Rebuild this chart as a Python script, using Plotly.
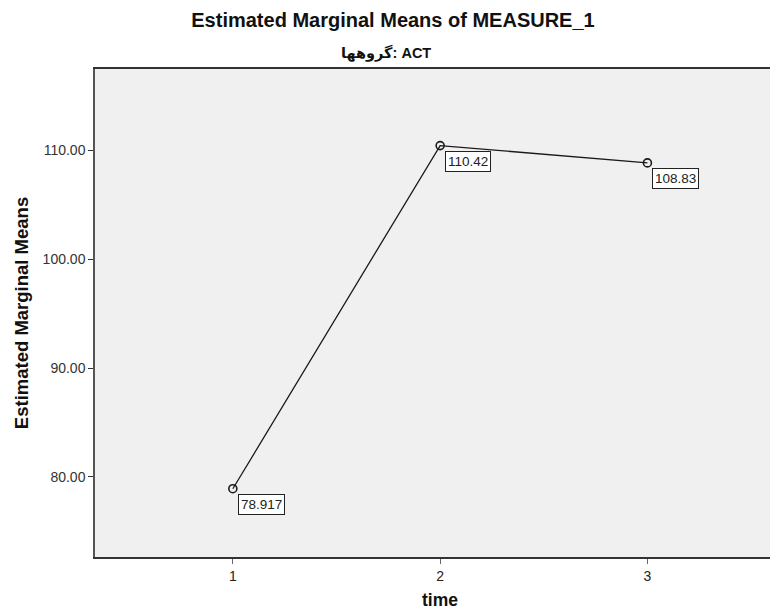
import plotly.graph_objects as go

time_points = [1, 2, 3]
means = [78.917, 110.42, 108.83]
mean_labels = ["78.917", "110.42", "108.83"]
y_ticks = [80, 90, 100, 110]

fig = go.Figure()
fig.add_trace(go.Scatter(
    x=time_points, y=means, mode="lines+markers",
    line=dict(color="#1a1a1a", width=1.3),
    marker=dict(symbol="circle-open", size=8, color="#1a1a1a", line=dict(width=1.6)),
    hoverinfo="skip", showlegend=False,
))

for xv, yv, lab in zip(time_points, means, mean_labels):
    fig.add_annotation(
        x=xv, y=yv, text=lab, showarrow=False,
        xanchor="left", yanchor="top", xshift=5, yshift=-5,
        font=dict(family="Arial", size=13.5, color="#222"),
        bgcolor="white", bordercolor="#222", borderwidth=1, borderpad=2,
    )

fig.add_annotation(
    x=0.426, y=1.0, xref="paper", yref="paper", yanchor="middle", yshift=16,
    text="<b>گروهها: ACT</b>", showarrow=False,
    font=dict(family="Arial, DejaVu Sans", size=14.5, color="#111"),
)

fig.add_annotation(
    x=2, y=0, xref="x", yref="paper", yanchor="middle", yshift=-43,
    text="<b>time</b>", showarrow=False,
    font=dict(family="Arial", size=17.5, color="#111"),
)

fig.update_layout(
    width=770, height=603,
    margin=dict(l=87, r=0, t=61, b=54),
    paper_bgcolor="white", plot_bgcolor="#f0f0f0",
    title=dict(text="<b>Estimated Marginal Means of MEASURE_1</b>",
               x=0.5, xanchor="center", y=0.98, yanchor="middle",
               font=dict(family="Arial", size=20, color="#111")),
    xaxis=dict(range=[0.335, 3.63], tickvals=time_points, ticktext=[str(t) for t in time_points],
               showgrid=False, zeroline=False, showline=True, linecolor="#333", linewidth=1.5,
               mirror=True, ticks="outside", ticklen=5, tickcolor="#666",
               tickfont=dict(family="Arial", size=14, color="#222")),
    yaxis=dict(range=[72.65, 117.45], tickvals=y_ticks, tickformat=".2f",
               showgrid=False, zeroline=False, showline=True, linecolor="#555", linewidth=1.5,
               ticks="outside", ticklen=5, tickcolor="#333",
               tickfont=dict(family="Arial", size=14, color="#333"),
               title=dict(text="<b>Estimated Marginal Means</b>", font=dict(family="Arial", size=18.5, color="#111"), standoff=9)),
)

fig.write_html("out.html")
